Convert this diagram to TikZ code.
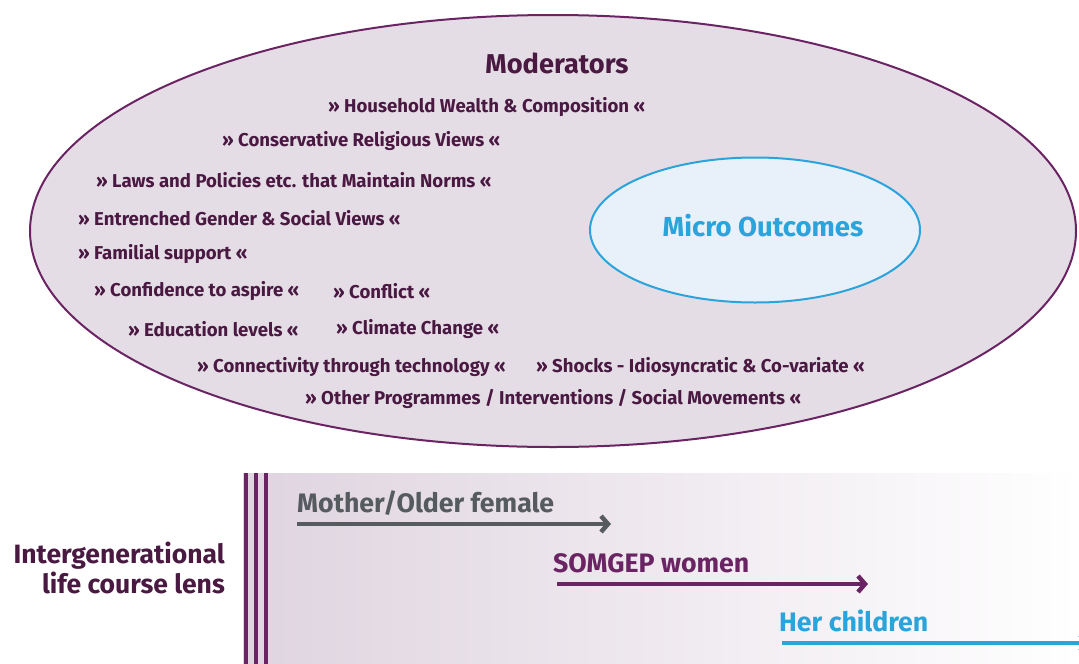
\documentclass[tikz,border=0pt]{standalone}
\usepackage{fontspec}
\setmainfont{Fira Sans}
\usetikzlibrary{arrows.meta,shapes.geometric}
\definecolor{mauve}{HTML}{E5DDE6}
\definecolor{plum}{HTML}{6B2463}
\definecolor{darkplum}{HTML}{4A1942}
\definecolor{skyb}{HTML}{2BA3DB}
\definecolor{paleblue}{HTML}{E8F0F9}
\definecolor{slate}{HTML}{555B5E}
\tikzset{
  item/.style={anchor=west, inner sep=0pt, text=darkplum, font=\fontsize{18.6}{22}\selectfont\bfseries},
  lensarrow/.style={line width=4.5pt, -{Straight Barb[length=7pt,width=16pt]}},
  lenslabel/.style={anchor=west, inner sep=0pt, font=\fontsize{26.7}{30}\selectfont\bfseries},
}
\begin{document}
\begin{tikzpicture}[x=1pt,y=-1pt]
\useasboundingbox (0,0) rectangle (1079,664);
% big ellipse
\node[ellipse, draw=plum, line width=2pt, fill=mauve, minimum width=1046pt, minimum height=432pt, inner sep=0pt] (mod) at (553,231) {};
\node[ellipse, draw=skyb, line width=2pt, fill=paleblue, minimum width=330pt, minimum height=145pt, inner sep=0pt] (micro) at (755,230) {};
\node[text=skyb, font=\fontsize{27.5}{30}\selectfont\bfseries] (microlbl) at (763,226) {Micro Outcomes};
\node[text=darkplum, font=\fontsize{27.2}{30}\selectfont\bfseries] (modlbl) at (557,63) {Moderators};
\node[item] (i1) at (328,107) {» Household Wealth \& Composition «};
\node[item] (i2) at (222,141) {» Conservative Religious Views «};
\node[item] (i3) at (96,180) {» Laws and Policies etc. that Maintain Norms «};
\node[item] (i4) at (78,218) {» Entrenched Gender \& Social Views «};
\node[item] (i5) at (78,254) {» Familial support «};
\node[item] (i6) at (94,291) {» Confidence to aspire «};
\node[item] (i7) at (333,291) {» Conflict «};
\node[item] (i8) at (128,329) {» Education levels «};
\node[item] (i9) at (336,329) {» Climate Change «};
\node[item] (i10) at (197,367) {» Connectivity through technology «};
\node[item] (i11) at (536,367) {» Shocks - Idiosyncratic \& Co-variate «};
\node[item] (i12) at (305,399) {» Other Programmes / Interventions / Social Movements «};
% lens panel
\shade[left color=mauve!95!plum, right color=white] (243,473) rectangle (1079,664);
\foreach \xx in {246,256,266} \draw[plum, line width=4pt] (\xx,473) -- (\xx,664);
\node[anchor=east, align=right, inner sep=0pt, text=darkplum, font=\fontsize{26.5}{30}\selectfont\bfseries] (lens) at (225,568) {Intergenerational\\life course lens};
\node[lenslabel, text=slate] (mother) at (297,503) {Mother/Older female};
\coordinate (m1) at (297,524);
\coordinate (m2) at (611,524);
\draw[lensarrow, slate] (m1) -- (m2);
\node[lenslabel, text=plum] (somgep) at (553,563) {SOMGEP women};
\coordinate (s1) at (557,584);
\coordinate (s2) at (868,584);
\draw[lensarrow, plum] (s1) -- (s2);
\node[lenslabel, text=skyb] (her) at (779,621) {Her children};
\coordinate (h1) at (782,643);
\coordinate (h2) at (1090,643);
\draw[lensarrow, skyb] (h1) -- (h2);
\end{tikzpicture}
\end{document}
